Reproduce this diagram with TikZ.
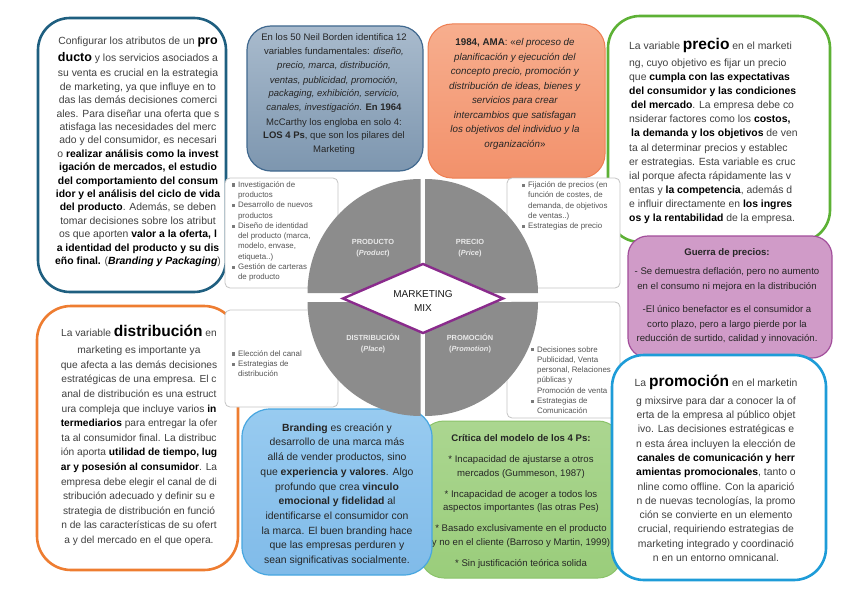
\documentclass[tikz,border=0pt]{standalone}
\usepackage{fontspec}
\setmainfont{Liberation Sans}
\definecolor{tealb}{HTML}{1F5F80}
\definecolor{bordT}{HTML}{A9BBCD}
\definecolor{bordB}{HTML}{7D96AF}
\definecolor{bordL}{HTML}{41698F}
\definecolor{amaT}{HTML}{F7AE8E}
\definecolor{amaB}{HTML}{F2916B}
\definecolor{amaL}{HTML}{EE7E52}
\definecolor{precG}{HTML}{5DB135}
\definecolor{purF}{HTML}{D09BC8}
\definecolor{purL}{HTML}{A24E9B}
\definecolor{distO}{HTML}{EE7D31}
\definecolor{brT}{HTML}{98CBF0}
\definecolor{brB}{HTML}{80BBE9}
\definecolor{brL}{HTML}{47A6E0}
\definecolor{crT}{HTML}{ABD690}
\definecolor{crB}{HTML}{9ACD7B}
\definecolor{crL}{HTML}{8BC36A}
\definecolor{promB}{HTML}{1E9CD8}
\definecolor{quadg}{HTML}{8C8C8C}
\definecolor{dmdP}{HTML}{8A2B8C}
\definecolor{lboxL}{HTML}{C4C4C4}
\definecolor{ltxt}{HTML}{555555}
\definecolor{bulg}{HTML}{7A7A7A}
\definecolor{bodyg}{HTML}{404040}
\definecolor{qlab}{HTML}{E9E9E9}
\newcommand{\bk}[1]{\textbf{\textcolor{black}{#1}}}
\newcommand{\lbul}{\makebox[6.5pt][l]{\textcolor{bulg}{\rule[0.6pt]{3.2pt}{3.2pt}}}}
\newcommand{\lind}{\hspace*{6.5pt}}
\newcommand{\bigw}[1]{{\fontsize{15.5}{15.5}\selectfont\bfseries\color{black}#1}}
\begin{document}
\begin{tikzpicture}[x=1pt,y=-1pt,
  txt/.style={inner sep=0, align=center, anchor=base, text=bodyg},
  li/.style={inner sep=0, anchor=base west, align=left, font=\fontsize{7.9}{10.3}\selectfont, text=ltxt},
  lbox/.style={draw=lboxL, line width=0.8pt, fill=white, rounded corners=5pt},
  quad/.style={fill=quadg},
  qlbl/.style={inner sep=0, align=center, anchor=base, text=qlab, font=\fontsize{7.4}{11}\selectfont\bfseries}]
\useasboundingbox (0,0) rectangle (848,599);
\fill[white] (0,0) rectangle (848,599);

% top-left producto box
\draw[draw=tealb, line width=2.6pt, fill=white, rounded corners=32pt] (38,18) rectangle (226,292);
\node[txt, font=\fontsize{10.4}{13.4}\selectfont] (prodtxt) at (138,264.5) {%
Configurar los atributos de un {\fontsize{12.5}{12.5}\selectfont\bk{pro}}\\[4pt]
{\fontsize{12.5}{12.5}\selectfont\bk{ducto}} y los servicios asociados a\\[2pt]
su venta es crucial en la estrategia\\
de marketing, ya que influye en to\\
das las demás decisiones comerci\\
ales. Para diseñar una oferta que s\\
atisfaga las necesidades del merc\\
ado y del consumidor, es necesari\\
o \bk{realizar análisis como la invest}\\
\bk{igación de mercados, el estudio}\\
\bk{del comportamiento del consum}\\
\bk{idor y el análisis del ciclo de vida}\\
\bk{del producto}. Además, se deben\\
tomar decisiones sobre los atribut\\
os que aporten \bk{valor a la oferta, l}\\
\bk{a identidad del producto y su dis}\\
\bk{eño final.} (\bk{\textit{Branding y Packaging}})};

% Borden box
\draw[draw=bordL, line width=1.2pt, top color=bordT, bottom color=bordB, rounded corners=24pt] (247,26) rectangle (423,171);
\node[txt, text=black!85, font=\fontsize{9.5}{14}\selectfont] (bordtxt) at (334,153) {%
En los 50 Neil Borden identifica 12\\
variables fundamentales: \textit{diseño,}\\
\textit{precio, marca, distribución,}\\
\textit{ventas, publicidad, promoción,}\\
\textit{packaging, exhibición, servicio,}\\
\textit{canales, investigación}. \textbf{En 1964}\\
McCarthy los engloba en solo 4:\\
\textbf{LOS 4 Ps}, que son los pilares del\\
Marketing};

% AMA box
\draw[draw=amaL, line width=1pt, top color=amaT, bottom color=amaB, rounded corners=24pt] (428,24) rectangle (605,178);
\node[txt, text=black!85, font=\fontsize{9.8}{14.5}\selectfont] (amatxt) at (515,147) {%
\textbf{1984, AMA}: «\textit{el proceso de}\\
\textit{planificación y ejecución del}\\
\textit{concepto precio, promoción y}\\
\textit{distribución de ideas, bienes y}\\
\textit{servicios para crear}\\
\textit{intercambios que satisfagan}\\
\textit{los objetivos del individuo y la}\\
\textit{organización}»};

% precio box
\draw[draw=precG, line width=2.6pt, fill=white, rounded corners=32pt] (608,16) rectangle (830,242);
\node[txt, anchor=base west, align=left, font=\fontsize{10.4}{14.1}\selectfont] (prectxt) at (629,221.5) {%
La variable \bigw{precio} en el marketi\\[2.5pt]
ng, cuyo objetivo es fijar un precio\\
que \bk{cumpla con las expectativas}\\
\bk{del consumidor y las condiciones}\\
\hspace*{2pt}\bk{del mercado}. La empresa debe co\\
nsiderar factores como los \bk{costos,}\\
\hspace*{2pt}\bk{la demanda y los objetivos} de ven\\
ta al determinar precios y establec\\
er estrategias. Esta variable es cruc\\
ial porque afecta rápidamente las v\\
entas y \bk{la competencia}, además d\\
e influir directamente en \bk{los ingres}\\
\bk{os y la rentabilidad} de la empresa.};

% purple box
\draw[draw=purL, line width=1.2pt, fill=purF, rounded corners=20pt] (628,236) rectangle (832,358);
\node[txt, text=black!85, font=\fontsize{9.6}{14.5}\selectfont] (purtxt) at (727,341.5) {%
\textbf{Guerra de precios:}\\[5pt]
- Se demuestra deflación, pero no aumento\\
en el consumo ni mejora en la distribución\\[9pt]
-El único benefactor es el consumidor a\\
corto plazo, pero a largo pierde por la\\
reducción de surtido, calidad y innovación.};

% distribucion box
\draw[draw=distO, line width=2.6pt, fill=white, rounded corners=34pt] (37,306) rectangle (238,570);
\node[txt, font=\fontsize{10.2}{14.6}\selectfont] (disttxt) at (139,543.5) {%
La variable \bigw{distribución} en\\[3pt]
marketing es importante ya\\
que afecta a las demás decisiones\\
estratégicas de una empresa. El c\\
anal de distribución es una estruct\\
ura compleja que incluye varios \bk{in}\\
\bk{termediarios} para entregar la ofer\\
ta al consumidor final. La distribuc\\
ión aporta \bk{utilidad de tiempo, lug}\\
\bk{ar y posesión al consumidor}. La\\
empresa debe elegir el canal de di\\
stribución adecuado y definir su e\\
strategia de distribución en funció\\
n de las características de su ofert\\
a y del mercado en el que opera.};

% critica box
\draw[draw=crL, line width=1pt, top color=crT, bottom color=crB, rounded corners=24pt] (420,421) rectangle (622,578);
\node[txt, text=black!85, font=\fontsize{9.6}{13.5}\selectfont] (crittxt) at (521,566) {%
\textbf{Crítica del modelo de los 4 Ps:}\\[7.5pt]
* Incapacidad de ajustarse a otros\\
mercados (Gummeson, 1987)\\[7.5pt]
* Incapacidad de acoger a todos los\\
aspectos importantes (las otras Pes)\\[7.5pt]
* Basado exclusivamente en el producto\\
y no en el cliente (Barroso y Martin, 1999)\\[7.5pt]
* Sin justificación teórica solida};

% branding box
\draw[draw=brL, line width=1.2pt, top color=brT, bottom color=brB, rounded corners=28pt] (242,409) rectangle (432,575);
\node[txt, text=black!85, font=\fontsize{10.4}{14.7}\selectfont] (brandtxt) at (337,563.5) {%
\textbf{Branding} es creación y\\
desarrollo de una marca más\\
allá de vender productos, sino\\
que \textbf{experiencia y valores}. Algo\\
profundo que crea \textbf{vinculo}\\
\textbf{emocional y fidelidad} al\\
identificarse el consumidor con\\
la marca. El buen branding hace\\
que las empresas perduren y\\
sean significativas socialmente.};

% list boxes
\draw[lbox] (225,178) rectangle (338,288);
\node[li] (lprod) at (231.4,279.8) {\lbul Investigación de\\\lind productos\\\lbul Desarrollo de nuevos\\\lind productos\\\lbul Diseño de identidad\\\lind del producto (marca,\\\lind modelo, envase,\\\lind etiqueta..)\\\lbul Gestión de carteras\\\lind de producto};
\draw[lbox] (507,178) rectangle (620,288);
\node[li] (lprec) at (521.4,228.8) {\lbul Fijación de precios (en\\\lind función de costes, de\\\lind demanda, de objetivos\\\lind de ventas..)\\\lbul Estrategias de precio};
\draw[lbox] (225,310) rectangle (338,407);
\node[li] (ldist) at (231.4,376.8) {\lbul Elección del canal\\\lbul Estrategias de\\\lind distribución};
\draw[lbox] (507,302) rectangle (620,418);
\node[li] (lprom) at (530.4,413.8) {\lbul Decisiones sobre\\\lind Publicidad, Venta\\\lind personal, Relaciones\\\lind públicas y\\\lind Promoción de venta\\\lbul Estrategias de\\\lind Comunicación};

% circle quadrants
\fill[quad] (420.5,293) -- (307.5,293) arc[start angle=180,end angle=90,x radius=113pt,y radius=114pt] -- cycle;
\fill[quad] (425,293) -- (538,293) arc[start angle=0,end angle=90,x radius=113pt,y radius=114pt] -- cycle;
\fill[quad] (420.5,302) -- (307.5,302) arc[start angle=180,end angle=270,x radius=113pt,y radius=114pt] -- cycle;
\fill[quad] (425,302) -- (538,302) arc[start angle=0,end angle=-90,x radius=113pt,y radius=114pt] -- cycle;
\node[qlbl] (qprod) at (373,255.7) {PRODUCTO\\(\textit{Product})};
\node[qlbl] (qprec) at (470,255.7) {PRECIO\\(\textit{Price})};
\node[qlbl] (qdist) at (373,351.7) {DISTRIBUCIÓN\\(\textit{Place})};
\node[qlbl] (qprom) at (470,351.7) {PROMOCIÓN\\(\textit{Promotion})};

% diamond
\draw[draw=dmdP, line width=2.4pt, fill=white, line join=miter] (343,298.5) -- (423,264) -- (503,298.5) -- (423,333) -- cycle;
\node[inner sep=0, align=center, anchor=base, font=\fontsize{10}{14}\selectfont, text=black!90] (mix) at (423,311.6) {MARKETING\\MIX};

% promocion box
\draw[draw=promB, line width=2.6pt, fill=white, rounded corners=32pt] (612,355) rectangle (826,580);
\node[txt, font=\fontsize{10.4}{14.3}\selectfont] (promtxt) at (716,561.5) {%
La \bigw{promoción} en el marketin\\[3.2pt]
g mixsirve para dar a conocer la of\\
erta de la empresa al público objet\\
ivo. Las decisiones estratégicas e\\
n esta área incluyen la elección de\\
\bk{canales de comunicación y herr}\\
\bk{amientas promocionales}, tanto o\\
nline como offline. Con la aparició\\
n de nuevas tecnologías, la promo\\
ción se convierte en un elemento\\
crucial, requiriendo estrategias de\\
marketing integrado y coordinació\\
n en un entorno omnicanal.};
\end{tikzpicture}
\end{document}
